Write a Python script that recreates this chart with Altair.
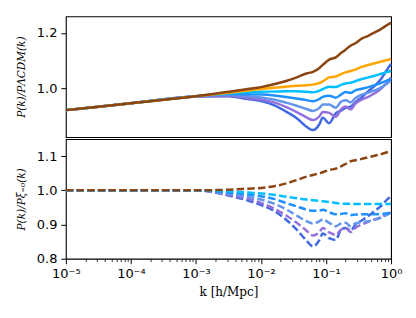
import altair as alt
import pandas as pd

# wavenumber grid k [h/Mpc]
k = [1e-5, 1e-4, 1e-3, 0.00316, 0.00631, 0.01, 0.0158, 0.0251, 0.0355, 0.0501,
     0.0631, 0.0794, 0.0891, 0.112, 0.141, 0.170, 0.200, 0.240, 0.282, 0.355,
     0.447, 0.562, 0.708, 0.891, 1.0]

series = ["s_rb", "s_mp", "s_cf", "s_db", "s_dsb", "s_or", "s_br"]
colors = ["#4169E1", "#9370DB", "#6495ED", "#1E90FF", "#00BFFF", "#FFA500", "#8B4513"]

# top panel: P(k)/P_LCDM(k)
top_vals = {
    "s_br": [0.922, 0.947, 0.972, 0.988, 0.998, 1.005, 1.015, 1.028, 1.040, 1.054, 1.060, 1.074, 1.085, 1.104, 1.112, 1.128, 1.140, 1.155, 1.163, 1.180, 1.190, 1.202, 1.215, 1.230, 1.237],
    "s_or": [0.922, 0.947, 0.972, 0.985, 0.993, 0.998, 1.003, 1.007, 1.010, 1.012, 1.014, 1.020, 1.026, 1.040, 1.043, 1.052, 1.058, 1.063, 1.068, 1.078, 1.085, 1.091, 1.097, 1.103, 1.106],
    "s_dsb": [0.922, 0.947, 0.972, 0.983, 0.986, 0.988, 0.989, 0.990, 0.990, 0.988, 0.986, 0.992, 0.998, 1.006, 1.005, 1.013, 1.018, 1.021, 1.026, 1.034, 1.040, 1.046, 1.053, 1.060, 1.064],
    "s_db": [0.922, 0.947, 0.972, 0.980, 0.979, 0.978, 0.975, 0.969, 0.964, 0.958, 0.954, 0.962, 0.970, 0.974, 0.967, 0.978, 0.987, 0.984, 0.993, 0.999, 1.005, 1.012, 1.020, 1.030, 1.035],
    "s_cf": [0.922, 0.947, 0.972, 0.977, 0.972, 0.968, 0.960, 0.948, 0.938, 0.926, 0.919, 0.930, 0.942, 0.942, 0.931, 0.952, 0.958, 0.950, 0.965, 0.978, 0.985, 0.993, 1.004, 1.020, 1.029],
    "s_mp": [0.922, 0.947, 0.971, 0.974, 0.966, 0.960, 0.950, 0.932, 0.915, 0.896, 0.886, 0.900, 0.915, 0.912, 0.898, 0.925, 0.935, 0.925, 0.945, 0.960, 0.970, 0.983, 1.000, 1.025, 1.040],
    "s_rb": [0.922, 0.947, 0.971, 0.972, 0.962, 0.955, 0.940, 0.915, 0.893, 0.862, 0.850, 0.872, 0.895, 0.875, 0.910, 0.920, 0.930, 0.935, 0.950, 0.968, 0.990, 1.010, 1.035, 1.072, 1.088],
}

# bottom panel: P(k)/P_{xi=0}(k)
bot_vals = {
    "s_br": [1.0, 1.0, 1.0, 1.002, 1.005, 1.007, 1.012, 1.021, 1.030, 1.040, 1.045, 1.050, 1.053, 1.060, 1.063, 1.070, 1.077, 1.085, 1.088, 1.092, 1.097, 1.101, 1.106, 1.112, 1.115],
    "s_dsb": [1.0, 1.0, 1.0, 0.997, 0.994, 0.991, 0.987, 0.981, 0.977, 0.973, 0.971, 0.969, 0.968, 0.966, 0.963, 0.961, 0.961, 0.960, 0.960, 0.960, 0.960, 0.960, 0.960, 0.960, 0.961],
    "s_db": [1.0, 1.0, 1.0, 0.994, 0.988, 0.983, 0.975, 0.962, 0.953, 0.944, 0.940, 0.941, 0.943, 0.936, 0.930, 0.931, 0.933, 0.928, 0.929, 0.930, 0.930, 0.930, 0.931, 0.933, 0.934],
    "s_cf": [1.0, 1.0, 1.0, 0.990, 0.981, 0.973, 0.961, 0.943, 0.926, 0.910, 0.903, 0.910, 0.915, 0.905, 0.895, 0.903, 0.905, 0.895, 0.903, 0.907, 0.910, 0.914, 0.920, 0.930, 0.935],
    "s_mp": [1.0, 1.0, 1.0, 0.987, 0.975, 0.963, 0.947, 0.925, 0.905, 0.882, 0.868, 0.878, 0.890, 0.877, 0.870, 0.885, 0.890, 0.878, 0.890, 0.900, 0.908, 0.915, 0.922, 0.932, 0.938],
    "s_rb": [1.0, 1.0, 1.0, 0.985, 0.970, 0.957, 0.940, 0.912, 0.885, 0.853, 0.836, 0.855, 0.874, 0.860, 0.855, 0.885, 0.890, 0.882, 0.900, 0.912, 0.925, 0.940, 0.955, 0.975, 0.983],
}

x_ticks = []
for d in [1e-5, 1e-4, 1e-3, 1e-2, 1e-1]:
    for m in range(1, 10):
        x_ticks.append(round(d * m, 10))
x_ticks.append(1.0)

def frame(vals):
    rows = []
    for s in series:
        if s in vals:
            for kk, v in zip(k, vals[s]):
                rows.append({"k": kk, "r": v, "s": s})
    return pd.DataFrame(rows)

df_top = frame(top_vals)
df_bot = frame(bot_vals)

color = alt.Color("s:N", scale=alt.Scale(domain=series, range=colors), legend=None)
xscale = alt.Scale(type="log", domain=[1e-5, 1.0], nice=False)

is_major = ("datum.value == 1 || datum.value == 0.1 || datum.value == 0.01 || "
            "datum.value == 0.001 || datum.value == 0.0001 || datum.value == 0.00001")
label_expr = ("datum.value == 1 ? '10⁰' : datum.value == 0.1 ? '10⁻¹' : "
              "datum.value == 0.01 ? '10⁻²' : datum.value == 0.001 ? '10⁻³' : "
              "datum.value == 0.0001 ? '10⁻⁴' : datum.value == 0.00001 ? '10⁻⁵' : ''")

base_axis = dict(grid=False, domain=False, ticks=True, tickColor="black",
                 labelFont="DejaVu Sans", labelFontSize=13,
                 labelColor="black", titleFont="DejaVu Serif", titleFontWeight="normal",
                 titleColor="black")

ytop_axis = alt.Axis(values=[1.0, 1.2], format=".1f", title="P(k)/PΛCDM(k)",
                     titleFontSize=10.5, titleFontStyle="italic", titlePadding=10,
                     tickSize=5, tickWidth=1, labelPadding=4, **base_axis)
ybot_axis = alt.Axis(values=[0.8, 0.9, 1.0, 1.1], format=".1f", title="P(k)/Pξ₌₀(k)",
                     titleFontSize=10.5, titleFontStyle="italic", titlePadding=10,
                     tickSize=5, tickWidth=1, labelPadding=4, **base_axis)
x_axis = alt.Axis(values=x_ticks, labelExpr=label_expr, title="k [h/Mpc]",
                  titleFontSize=12, titlePadding=6, labelFlush=False, labelOverlap=False,
                  tickSize={"condition": {"test": is_major, "value": 5}, "value": 2.8},
                  tickWidth={"condition": {"test": is_major, "value": 1}, "value": 0.8},
                  labelPadding=4, **base_axis)

top = alt.Chart(df_top).mark_line(strokeWidth=2.5, interpolate="monotone").encode(
    x=alt.X("k:Q", scale=xscale, axis=None),
    y=alt.Y("r:Q", scale=alt.Scale(domain=[0.825, 1.26], nice=False, zero=False), axis=ytop_axis),
    color=color,
    order=alt.Order("k:Q"),
).properties(width=326, height=121)

bot = alt.Chart(df_bot).mark_line(strokeWidth=2.5, strokeDash=[7.5, 3.2], interpolate="monotone").encode(
    x=alt.X("k:Q", scale=xscale, axis=x_axis),
    y=alt.Y("r:Q", scale=alt.Scale(domain=[0.8, 1.15], nice=False, zero=False), axis=ybot_axis),
    color=color,
    order=alt.Order("k:Q"),
).properties(width=326, height=120)

chart = alt.vconcat(top, bot, spacing=0).properties(
    padding={"left": 7, "top": 7, "right": 5, "bottom": 5}
).configure(background="white").configure_view(stroke="black", strokeWidth=1.1)

chart.save("out.html", embed_options={"renderer": "svg", "actions": False})
